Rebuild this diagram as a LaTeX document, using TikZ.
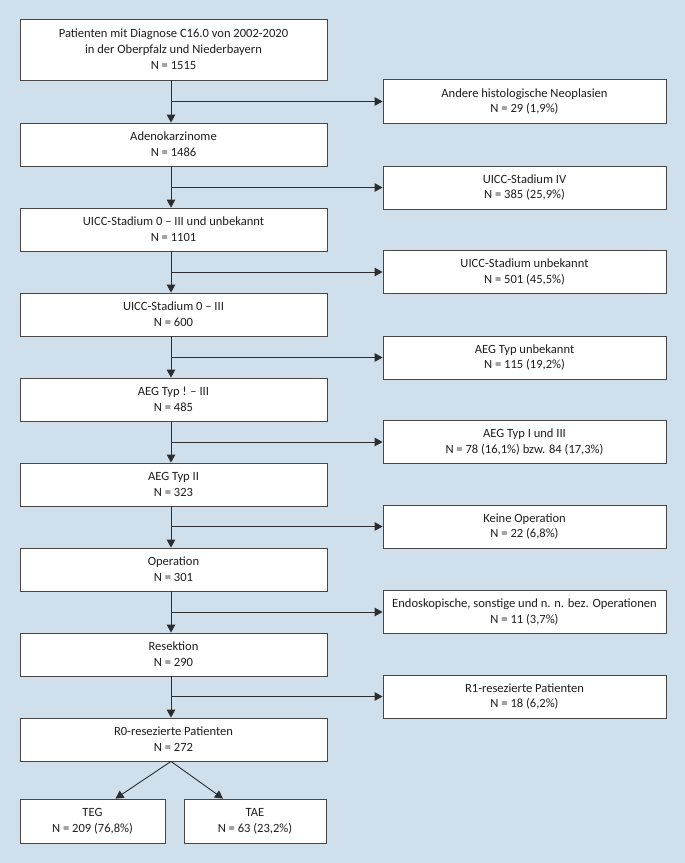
\documentclass[tikz,border=0pt]{standalone}
\usepackage{fontspec}
\setmainfont{Carlito}
\usetikzlibrary{arrows.meta}
\definecolor{bgblue}{RGB}{207,224,236}
\definecolor{linegray}{RGB}{45,45,45}
\definecolor{boxedge}{RGB}{70,70,70}
\definecolor{txt}{RGB}{30,30,30}
\begin{document}
\begin{tikzpicture}[x=1bp,y=-1bp,
  every node/.style={font=\fontsize{12.6}{16}\selectfont, text=txt, align=center, inner sep=0pt},
  mainbox/.style={draw=boxedge, fill=white, line width=0.8bp, minimum width=307bp, minimum height=43bp},
  sidebox/.style={draw=boxedge, fill=white, line width=0.8bp, minimum width=283bp, minimum height=43bp},
  endbox/.style={draw=boxedge, fill=white, line width=0.8bp, minimum height=44bp},
  arr/.style={draw=linegray, line width=0.9bp, -{Triangle[length=8bp,width=8.5bp]}}
]
\fill[bgblue] (0,0) rectangle (685,863);
\useasboundingbox (0,0) rectangle (685,863);
\coordinate (vx) at (171,0);

\node[mainbox, minimum height=61bp] (m0) at (173.5,49.5) {Patienten mit Diagnose C16.0 von 2002-2020\\in der Oberpfalz und Niederbayern\\N = 1515};
\node[mainbox] (m1) at (173.5,144.5) {Adenokarzinome\\N = 1486};
\node[mainbox] (m2) at (173.5,229.5) {UICC-Stadium 0 – III und unbekannt\\N = 1101};
\node[mainbox] (m3) at (173.5,314.5) {UICC-Stadium 0 – III\\N = 600};
\node[mainbox] (m4) at (173.5,399.5) {AEG Typ ! – III\\N = 485};
\node[mainbox] (m5) at (173.5,484.5) {AEG Typ II\\N = 323};
\node[mainbox] (m6) at (173.5,569.5) {Operation\\N = 301};
\node[mainbox] (m7) at (173.5,654.5) {Resektion\\N = 290};
\node[mainbox] (m8) at (173.5,739.5) {R0-resezierte Patienten\\N = 272};

\node[sidebox, minimum height=44bp] (r0) at (524.5,101.5) {Andere histologische Neoplasien\\N = 29 (1,9\%)};
\node[sidebox] (r1) at (524.5,187.5) {UICC-Stadium IV\\N = 385 (25,9\%)};
\node[sidebox] (r2) at (524.5,272) {UICC-Stadium unbekannt\\N = 501 (45,5\%)};
\node[sidebox] (r3) at (524.5,357.5) {AEG Typ unbekannt\\N = 115 (19,2\%)};
\node[sidebox] (r4) at (524.5,442) {AEG Typ I und III\\N = 78 (16,1\%) bzw. 84 (17,3\%)};
\node[sidebox] (r5) at (524.5,526.5) {Keine Operation\\N = 22 (6,8\%)};
\node[sidebox] (r6) at (524.5,612) {Endoskopische, sonstige und n. n. bez. Operationen\\N = 11 (3,7\%)};
\node[sidebox] (r7) at (524.5,696.5) {R1-resezierte Patienten\\N = 18 (6,2\%)};

\node[endbox, minimum width=145bp] (teg) at (92.5,821) {TEG\\N = 209 (76,8\%)};
\node[endbox, minimum width=142bp] (tae) at (255,821) {TAE\\N = 63 (23,2\%)};

\foreach \a/\b in {m0/m1,m1/m2,m2/m3,m3/m4,m4/m5,m5/m6,m6/m7,m7/m8}
  \draw[arr] (\a.south -| vx) -- (\b.north -| vx);
\foreach \r in {r0,r1,r2,r3,r4,r5,r6,r7}
  \draw[arr] (\r.west -| vx) -- (\r.west);

\coordinate (split) at (m8.south -| vx);
\draw[arr] (split) -- ([xshift=23bp]teg.north);
\draw[arr] (split) -- ([xshift=-32bp]tae.north);
\end{tikzpicture}
\end{document}
